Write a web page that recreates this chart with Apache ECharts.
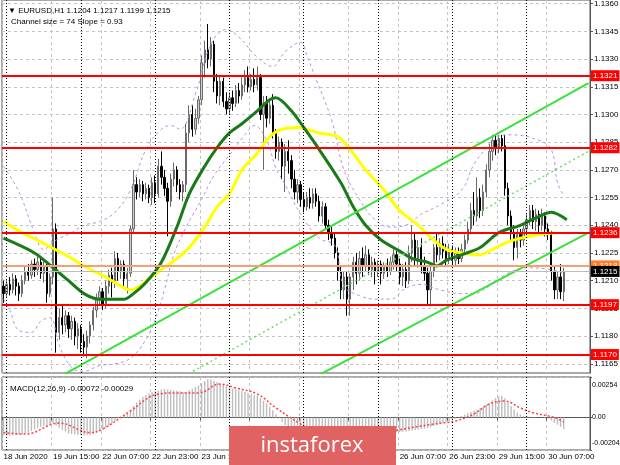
<!DOCTYPE html>
<html><head><meta charset="utf-8">
<script src="https://cdn.jsdelivr.net/npm/echarts@6/dist/echarts.min.js"></script>
<style>html,body{margin:0;padding:0;background:#fff}#c{width:620px;height:465px}</style>
</head><body><div id="c"></div>
<script>
// ---------- DATA ----------
const firstBar = '18 Jun 23:00';
const tradingDays = ['19 Jun','22 Jun','23 Jun','24 Jun','25 Jun','26 Jun','29 Jun','30 Jun'];
const slotCount = 190;
const tickLabels = ['18 Jun 2020','19 Jun 15:00','22 Jun 07:00','22 Jun 23:00','23 Jun 15:00','24 Jun 07:00','24 Jun 23:00','25 Jun 15:00','26 Jun 07:00','26 Jun 23:00','29 Jun 15:00','30 Jun 07:00'];
const tickStep = 16;
const daySeparators = [1,25,49,73,97,121,145,169];
const priceTicks = [1.1165,1.1180,1.1195,1.1210,1.1225,1.1240,1.1255,1.1270,1.1285,1.1300,1.1315,1.1330,1.1345,1.1360];
const macdTicks = [-0.00204,0,0.00254];
const redLevels = [1.1321,1.1282,1.1236,1.1197,1.1170];
const orangeLevel = 1.1218;
const lastPrice = 1.1215;
const headerText = '\u25BC EURUSD,H1 1.1204 1.1217 1.1199 1.1215';
const channelText = 'Channel size = 74 Slope = 0.93';
const macdText = 'MACD(12,26,9) -0.00072 -0.00029';

// candles: [open, close, low, high]
const candles = [
[1.1207,1.1203,1.1198,1.1210],[1.1203,1.1208,1.1201,1.1211],[1.1208,1.1205,1.1202,1.1212],[1.1205,1.1211,1.1203,1.1214],
[1.1211,1.1207,1.1202,1.1213],[1.1207,1.1203,1.1199,1.1209],[1.1203,1.1210,1.1201,1.1213],[1.1210,1.1215,1.1208,1.1218],
[1.1215,1.1213,1.1210,1.1219],[1.1213,1.1219,1.1211,1.1221],[1.1219,1.1216,1.1212,1.1222],[1.1216,1.1220,1.1213,1.1223],
[1.1220,1.1214,1.1211,1.1222],[1.1214,1.1218,1.1209,1.1221],[1.1218,1.1203,1.1198,1.1219],[1.1203,1.1212,1.1201,1.1214],
[1.1212,1.1238,1.1208,1.1255],[1.1238,1.1182,1.1171,1.1241],[1.1182,1.1190,1.1178,1.1195],[1.1190,1.1186,1.1181,1.1197],
[1.1186,1.1191,1.1182,1.1194],[1.1191,1.1184,1.1179,1.1193],[1.1184,1.1188,1.1178,1.1191],[1.1188,1.1180,1.1175,1.1190],
[1.1180,1.1184,1.1173,1.1187],[1.1184,1.1177,1.1171,1.1186],[1.1177,1.1174,1.1169,1.1181],[1.1174,1.1180,1.1168,1.1183],
[1.1180,1.1186,1.1176,1.1188],[1.1186,1.1194,1.1183,1.1196],[1.1194,1.1200,1.1190,1.1203],[1.1200,1.1204,1.1197,1.1207],
[1.1204,1.1197,1.1194,1.1206],[1.1197,1.1207,1.1195,1.1210],[1.1207,1.1213,1.1203,1.1216],[1.1213,1.1209,1.1201,1.1217],
[1.1209,1.1222,1.1206,1.1226],[1.1222,1.1215,1.1210,1.1225],[1.1215,1.1219,1.1211,1.1221],[1.1219,1.1211,1.1206,1.1221],
[1.1211,1.1214,1.1203,1.1217],[1.1214,1.1238,1.1212,1.1240],[1.1238,1.1262,1.1236,1.1270],[1.1262,1.1258,1.1254,1.1266],
[1.1258,1.1262,1.1255,1.1265],[1.1262,1.1257,1.1253,1.1264],[1.1257,1.1260,1.1254,1.1263],[1.1260,1.1255,1.1252,1.1262],
[1.1255,1.1263,1.1251,1.1266],[1.1263,1.1257,1.1252,1.1267],[1.1257,1.1272,1.1255,1.1276],[1.1272,1.1266,1.1262,1.1280],
[1.1266,1.1260,1.1256,1.1270],[1.1260,1.1253,1.1234,1.1263],[1.1253,1.1265,1.1250,1.1268],[1.1265,1.1270,1.1261,1.1274],
[1.1270,1.1262,1.1258,1.1272],[1.1262,1.1258,1.1254,1.1265],[1.1258,1.1262,1.1253,1.1264],[1.1262,1.1290,1.1258,1.1295],
[1.1290,1.1300,1.1285,1.1305],[1.1300,1.1292,1.1288,1.1305],[1.1292,1.1298,1.1289,1.1303],[1.1298,1.1308,1.1295,1.1310],
[1.1308,1.1328,1.1305,1.1332],[1.1328,1.1335,1.1320,1.1340],[1.1335,1.1330,1.1325,1.1349],[1.1330,1.1338,1.1326,1.1342],
[1.1338,1.1318,1.1312,1.1340],[1.1318,1.1310,1.1306,1.1322],[1.1310,1.1318,1.1305,1.1321],[1.1318,1.1307,1.1304,1.1320],
[1.1307,1.1303,1.1300,1.1312],[1.1303,1.1309,1.1300,1.1312],[1.1309,1.1306,1.1302,1.1313],[1.1306,1.1313,1.1304,1.1316],
[1.1313,1.1310,1.1306,1.1317],[1.1310,1.1316,1.1308,1.1320],[1.1316,1.1320,1.1312,1.1324],[1.1320,1.1315,1.1312,1.1326],
[1.1315,1.1319,1.1313,1.1322],[1.1319,1.1316,1.1312,1.1325],[1.1316,1.1320,1.1313,1.1326],[1.1320,1.1300,1.1297,1.1322],
[1.1300,1.1306,1.1270,1.1310],[1.1306,1.1298,1.1293,1.1310],[1.1298,1.1305,1.1295,1.1308],[1.1305,1.1290,1.1287,1.1311],
[1.1290,1.1280,1.1276,1.1292],[1.1280,1.1285,1.1275,1.1288],[1.1285,1.1272,1.1265,1.1287],[1.1272,1.1280,1.1258,1.1284],
[1.1280,1.1275,1.1268,1.1286],[1.1275,1.1265,1.1260,1.1278],[1.1265,1.1258,1.1254,1.1270],[1.1258,1.1262,1.1252,1.1265],
[1.1262,1.1254,1.1250,1.1264],[1.1254,1.1250,1.1247,1.1258],[1.1250,1.1255,1.1248,1.1258],[1.1255,1.1252,1.1249,1.1260],
[1.1252,1.1257,1.1249,1.1260],[1.1257,1.1253,1.1250,1.1260],[1.1253,1.1245,1.1242,1.1256],[1.1245,1.1250,1.1241,1.1253],
[1.1250,1.1240,1.1238,1.1252],[1.1240,1.1236,1.1232,1.1243],[1.1236,1.1233,1.1229,1.1240],[1.1233,1.1225,1.1222,1.1236],
[1.1225,1.1215,1.1210,1.1228],[1.1215,1.1205,1.1200,1.1218],[1.1205,1.1212,1.1200,1.1215],[1.1212,1.1200,1.1191,1.1215],
[1.1200,1.1212,1.1191,1.1214],[1.1212,1.1220,1.1205,1.1223],[1.1220,1.1214,1.1208,1.1225],[1.1214,1.1222,1.1210,1.1226],
[1.1222,1.1218,1.1212,1.1228],[1.1218,1.1224,1.1215,1.1229],[1.1224,1.1216,1.1213,1.1227],[1.1216,1.1220,1.1212,1.1223],
[1.1220,1.1215,1.1208,1.1222],[1.1215,1.1219,1.1212,1.1221],[1.1219,1.1214,1.1208,1.1221],[1.1214,1.1218,1.1211,1.1220],
[1.1218,1.1215,1.1212,1.1222],[1.1215,1.1220,1.1213,1.1223],[1.1220,1.1224,1.1216,1.1227],[1.1224,1.1219,1.1215,1.1226],
[1.1219,1.1212,1.1208,1.1222],[1.1212,1.1216,1.1207,1.1219],[1.1216,1.1210,1.1206,1.1220],[1.1210,1.1225,1.1208,1.1229],
[1.1225,1.1232,1.1220,1.1240],[1.1232,1.1222,1.1218,1.1236],[1.1222,1.1228,1.1217,1.1232],[1.1228,1.1218,1.1214,1.1233],
[1.1218,1.1214,1.1210,1.1223],[1.1214,1.1205,1.1197,1.1217],[1.1205,1.1215,1.1196,1.1218],[1.1215,1.1228,1.1212,1.1230],
[1.1228,1.1224,1.1220,1.1236],[1.1224,1.1230,1.1221,1.1233],[1.1230,1.1226,1.1222,1.1234],[1.1226,1.1222,1.1218,1.1230],
[1.1222,1.1227,1.1219,1.1230],[1.1227,1.1221,1.1217,1.1229],[1.1221,1.1225,1.1218,1.1228],[1.1225,1.1222,1.1219,1.1228],
[1.1222,1.1227,1.1220,1.1230],[1.1227,1.1232,1.1224,1.1235],[1.1232,1.1238,1.1230,1.1242],[1.1238,1.1248,1.1235,1.1252],
[1.1248,1.1245,1.1240,1.1258],[1.1245,1.1255,1.1242,1.1266],[1.1255,1.1248,1.1244,1.1260],[1.1248,1.1258,1.1245,1.1262],
[1.1258,1.1270,1.1255,1.1273],[1.1270,1.1280,1.1266,1.1284],[1.1280,1.1286,1.1275,1.1289],[1.1286,1.1282,1.1278,1.1289],
[1.1282,1.1287,1.1279,1.1289],[1.1287,1.1283,1.1280,1.1289],[1.1283,1.1260,1.1256,1.1289],[1.1260,1.1245,1.1240,1.1263],
[1.1245,1.1236,1.1232,1.1248],[1.1236,1.1228,1.1221,1.1240],[1.1228,1.1235,1.1222,1.1238],[1.1235,1.1232,1.1228,1.1238],
[1.1232,1.1238,1.1229,1.1241],[1.1238,1.1243,1.1235,1.1246],[1.1243,1.1248,1.1240,1.1251],[1.1248,1.1242,1.1238,1.1251],
[1.1242,1.1246,1.1237,1.1249],[1.1246,1.1240,1.1236,1.1248],[1.1240,1.1245,1.1237,1.1249],[1.1245,1.1238,1.1234,1.1247],
[1.1238,1.1235,1.1232,1.1241],[1.1235,1.1215,1.1210,1.1237],[1.1215,1.1205,1.1200,1.1218],[1.1205,1.1212,1.1200,1.1215],
[1.1212,1.1204,1.1200,1.1219],[1.1204,1.1215,1.1199,1.1217]
];

// moving averages / bands read at sparse bars: [barIndex, price]
const greenMA = [[0,1.1233],[10,1.1225],[16,1.1217],[21,1.1210],[26,1.1203],[31,1.1200],[39,1.1200],[42,1.1203],[46,1.1209],[51,1.1220],[56,1.1239],[60,1.1257],[65,1.1272],[69,1.1282],[73,1.1290],[77,1.1295],[82,1.1302],[86,1.1308],[88,1.1309],[93,1.1302],[97,1.1293],[102,1.1281],[109,1.1263],[113,1.1250],[117,1.1240],[122,1.1232],[128,1.1226],[132,1.1222],[137,1.1220],[140,1.1218],[143,1.1221],[148,1.1224],[154,1.1228],[160,1.1236],[167,1.1240],[172,1.1244],[177,1.1247],[182,1.1243]];
const yellowMA = [[0,1.1242],[5,1.1237],[12,1.1231],[21,1.1223],[27,1.1217],[33,1.1212],[38,1.1207],[41,1.1205],[44,1.1207],[47,1.1211],[51,1.1216],[56,1.1222],[60,1.1228],[65,1.1239],[69,1.1250],[73,1.1257],[77,1.1270],[82,1.1279],[86,1.1288],[90,1.1292],[95,1.1293],[102,1.1290],[108,1.1288],[112,1.1281],[117,1.1270],[123,1.1259],[128,1.1248],[134,1.1240],[139,1.1232],[143,1.1227],[148,1.1225],[154,1.1224],[158,1.1227],[163,1.1231],[167,1.1233],[173,1.1235],[178,1.1236]];
const bandUpper = [[0,1.1272],[5,1.1258],[10,1.1236],[13,1.1227],[17,1.1232],[22,1.1236],[26,1.1240],[31,1.1242],[36,1.1247],[41,1.1259],[46,1.1281],[51,1.1292],[54,1.1294],[57,1.1292],[62,1.1311],[67,1.1338],[72,1.1346],[76,1.1342],[82,1.1331],[87,1.1326],[91,1.1334],[96,1.1339],[98,1.1332],[101,1.1319],[106,1.1297],[110,1.1270],[115,1.1254],[120,1.1243],[125,1.1239],[130,1.1240],[135,1.1246],[141,1.1251],[148,1.1259],[152,1.1273],[156,1.1282],[159,1.1288],[164,1.1289],[173,1.1286],[177,1.1281],[179,1.1263],[181,1.1256]];
const bandLower = [[0,1.1200],[2,1.1194],[5,1.1183],[9,1.1182],[12,1.1188],[15,1.1190],[18,1.1175],[22,1.1163],[26,1.1161],[31,1.1164],[36,1.1165],[41,1.1168],[46,1.1178],[49,1.1189],[52,1.1205],[55,1.1224],[59,1.1239],[64,1.1254],[68,1.1267],[73,1.1278],[78,1.1289],[81,1.1294],[85,1.1286],[88,1.1271],[91,1.1262],[96,1.1246],[102,1.1233],[107,1.1229],[110,1.1207],[115,1.1202],[120,1.1200],[125,1.1200],[130,1.1206],[135,1.1208],[141,1.1205],[148,1.1203],[152,1.1203],[157,1.1207],[163,1.1214],[169,1.1217],[177,1.1216],[181,1.1214]];
const channelUpper = [[15,1.1155],[189,1.1317]];
const channelMiddle = [[57,1.1157],[189,1.1280]];
const channelLower = [[102,1.1159],[189,1.1236]];

const macdHist = [
-0.00110,-0.00112,-0.00113,-0.00112,-0.00110,-0.00108,-0.00105,-0.00100,-0.00096,
-0.00085,-0.00075,-0.00065,-0.00058,-0.00052,-0.00048,-0.00042,-0.00036,
-0.00050,-0.00065,-0.00078,-0.00088,
-0.00100,-0.00104,-0.00107,-0.00110,-0.00112,-0.00113,-0.00112,-0.00108,-0.00102,-0.00095,
-0.00086,-0.00076,-0.00064,-0.00050,-0.00036,-0.00020,-0.00006,0.00006,
0.00018,0.00030,0.00048,0.00072,0.00095,0.00112,0.00128,0.00140,
0.00150,0.00158,0.00164,0.00170,0.00175,0.00178,0.00176,0.00172,0.00170,0.00168,
0.00164,0.00160,0.00162,0.00170,0.00180,0.00190,0.00200,0.00215,0.00228,
0.00240,0.00238,0.00230,0.00222,0.00212,0.00204,0.00196,0.00188,0.00182,0.00176,0.00170,
0.00165,0.00160,0.00154,0.00148,0.00142,0.00135,0.00122,
0.00105,0.00088,0.00068,0.00045,0.00020,
-0.00005,-0.00028,-0.00048,-0.00064,-0.00078,-0.00090,-0.00100,
-0.00106,-0.00110,-0.00113,-0.00115,-0.00116,-0.00117,-0.00118,-0.00118,-0.00119,-0.00120,-0.00121,-0.00122,-0.00123,-0.00122,-0.00121,-0.00120,-0.00119,-0.00118,-0.00117,-0.00116,-0.00115,-0.00114,-0.00113,-0.00112,-0.00111,
-0.00110,-0.00108,-0.00106,-0.00103,-0.00100,-0.00097,-0.00094,-0.00092,-0.00090,-0.00088,-0.00085,-0.00082,-0.00079,-0.00076,-0.00073,
-0.00070,-0.00066,-0.00060,-0.00054,-0.00048,-0.00042,-0.00036,-0.00030,-0.00024,-0.00016,-0.00008,
0.00002,0.00010,0.00018,0.00026,0.00034,0.00042,0.00050,0.00058,0.00066,
0.00078,0.00092,0.00108,0.00122,0.00132,0.00136,
0.00120,0.00096,0.00072,0.00050,0.00032,
0.00020,0.00012,0.00008,0.00006,0.00004,0.00002,0.00000,-0.00002,-0.00004,-0.00008,
-0.00020,-0.00034,-0.00046,-0.00058,-0.00072
];
const macdSignal = [[0,-0.00095],[7,-0.00104],[18,-0.00035],[28,-0.00095],[32,-0.00073],[41,0.00041],[50,0.00147],[56,0.00154],[63,0.00154],[70,0.0021],[75,0.00185],[82,0.00147],[88,0.0006],[96,-0.00041],[101,-0.00095],[107,-0.00116],[120,-0.00116],[126,-0.00085],[139,-0.00041],[146,-0.00022],[152,0.00022],[157,0.00085],[162,0.00103],[167,0.0006],[171,0.0003],[178,0],[181,-0.00029]];

// ---------- BUILD ----------
const categories = [firstBar];
tradingDays.forEach(d => { for (let h = 0; h < 24; h++) categories.push(d + ' ' + String(h).padStart(2,'0') + ':00'); });
categories.length = slotCount;

const FONT = 'Liberation Sans';
const isTick = idx => idx % tickStep === 0 && idx / tickStep < tickLabels.length;
const sepStyle = { color: '#000', type: [1, 2], width: 1 };
const sepLines = () => daySeparators.map(i => ({ xAxis: categories[i], lineStyle: sepStyle, label: { show: false } }));

function levelLine(v, bg, lineColor, w, txt) {
  return { yAxis: v, lineStyle: { color: lineColor, width: w, type: 'solid' },
    label: { show: true, position: 'end', distance: 1, formatter: v.toFixed(4), backgroundColor: bg, color: txt || '#fff',
      fontSize: 8, fontFamily: FONT, padding: [2, 2, 1, 2] } };
}
function levelSeries(items, z) {
  return { type: 'line', xAxisIndex: 0, yAxisIndex: 0, data: [], z: z, silent: true,
    markLine: { symbol: 'none', silent: true, animation: false, precision: 4, data: items } };
}

const chart = echarts.init(document.getElementById('c'), null, { renderer: 'canvas' });
chart.setOption({
  animation: false,
  backgroundColor: '#fff',
  textStyle: { fontFamily: FONT },
  title: [
    { text: headerText, left: 3, top: 2, textStyle: { fontSize: 8, fontWeight: 'normal', color: '#000', fontFamily: FONT } },
    { text: channelText, left: 6, top: 13, textStyle: { fontSize: 8, fontWeight: 'normal', color: '#000', fontFamily: FONT } },
    { text: macdText, left: 5, top: 380, textStyle: { fontSize: 8, fontWeight: 'normal', color: '#000', fontFamily: FONT } }
  ],
  grid: [
    { left: 2, right: 30, top: 0, height: 373, show: true, borderColor: '#555', borderWidth: 1, backgroundColor: 'transparent', containLabel: false, outerBoundsMode: 'none' },
    { left: 2, right: 30, top: 377, height: 73, show: true, borderColor: '#555', borderWidth: 1, backgroundColor: 'transparent', containLabel: false, outerBoundsMode: 'none' }
  ],
  xAxis: [
    { type: 'category', gridIndex: 0, data: categories, boundaryGap: true,
      axisLine: { show: false }, axisTick: { show: false }, axisLabel: { show: false },
      splitLine: { show: true, interval: isTick, lineStyle: { color: '#c4c4c4', type: [3, 3], width: 1 } } },
    { type: 'category', gridIndex: 1, data: categories, boundaryGap: true,
      axisLine: { show: true, lineStyle: { color: '#555' } },
      axisTick: { show: true, interval: isTick, length: 3, lineStyle: { color: '#555' } },
      axisLabel: { show: true, interval: isTick, hideOverlap: false, formatter: (v, idx) => tickLabels[idx / tickStep] || '', fontSize: 8, color: '#000', align: 'left', margin: 3, fontFamily: FONT },
      splitLine: { show: true, interval: isTick, lineStyle: { color: '#c4c4c4', type: [3, 3], width: 1 } } }
  ],
  yAxis: [
    { type: 'value', gridIndex: 0, position: 'right', min: 1.1160, max: 1.1362, scale: true,
      axisLine: { show: true, lineStyle: { color: '#555' } },
      axisTick: { show: true, length: 3, customValues: priceTicks, lineStyle: { color: '#555' } },
      axisLabel: { customValues: priceTicks, formatter: v => v.toFixed(4), fontSize: 8, color: '#000', margin: 4, fontFamily: FONT },
      splitLine: { show: true, lineStyle: { color: '#c4c4c4', type: [3, 3], width: 1 } } },
    { type: 'value', gridIndex: 1, position: 'right', min: macdTicks[0], max: macdTicks[2],
      axisLine: { show: true, lineStyle: { color: '#555' } },
      axisTick: { show: true, length: 2, customValues: macdTicks, lineStyle: { color: '#555' } },
      axisLabel: { customValues: macdTicks, fontSize: 7, color: '#000', margin: 2, fontFamily: FONT,
        formatter: v => v === 0 ? '0.00' : (v > 0 ? '{t|' + v.toFixed(5) + '}' : '{b|' + v.toFixed(5) + '}'),
        rich: { t: { fontSize: 7, color: '#000', padding: [16, 0, 0, 0], fontFamily: FONT }, b: { fontSize: 7, color: '#000', padding: [0, 0, 14, 0], fontFamily: FONT } } },
      splitLine: { show: true, lineStyle: { color: '#c4c4c4', type: [3, 3], width: 1 } } }
  ],
  series: [
    { type: 'candlestick', xAxisIndex: 0, yAxisIndex: 0, data: candles, barWidth: 1.8, z: 2,
      itemStyle: { color: '#cfcfcf', color0: '#000', borderColor: '#6a6a6a', borderColor0: '#000', borderWidth: 1 } },
    { type: 'line', xAxisIndex: 0, yAxisIndex: 0, data: [], z: 3, silent: true,
      markLine: { symbol: 'none', silent: true, animation: false, data: sepLines() } },
    { type: 'line', xAxisIndex: 0, yAxisIndex: 0, data: bandUpper, smooth: 0.4, showSymbol: false, z: 3,
      lineStyle: { color: '#bb90e0', width: 1, type: [3, 3] } },
    { type: 'line', xAxisIndex: 0, yAxisIndex: 0, data: bandLower, smooth: 0.4, showSymbol: false, z: 3,
      lineStyle: { color: '#bb90e0', width: 1, type: [3, 3] } },
    { type: 'line', xAxisIndex: 0, yAxisIndex: 0, data: yellowMA, smooth: 0.3, showSymbol: false, z: 4,
      lineStyle: { color: '#ffff00', width: 3 } },
    { type: 'line', xAxisIndex: 0, yAxisIndex: 0, data: greenMA, smooth: 0.3, showSymbol: false, z: 4,
      lineStyle: { color: '#1a7a1a', width: 3 } },
    { type: 'line', xAxisIndex: 0, yAxisIndex: 0, data: channelUpper, showSymbol: false, z: 4, clip: true,
      lineStyle: { color: '#3ce03c', width: 2 } },
    { type: 'line', xAxisIndex: 0, yAxisIndex: 0, data: channelLower, showSymbol: false, z: 4, clip: true,
      lineStyle: { color: '#3ce03c', width: 2 } },
    { type: 'line', xAxisIndex: 0, yAxisIndex: 0, data: channelMiddle, showSymbol: false, z: 4, clip: true,
      lineStyle: { color: '#66e066', width: 1.5, type: [2, 3] } },
    levelSeries([levelLine(orangeLevel, '#ff7f2a', '#f4a070', 2)], 5),
    levelSeries(redLevels.map(v => levelLine(v, '#ff0000', '#ff0000', 2)), 6),
    levelSeries([levelLine(lastPrice, '#000', '#bdbdbd', 1)], 7),
    { type: 'bar', xAxisIndex: 1, yAxisIndex: 1, data: macdHist, barWidth: 1.4, z: 2,
      itemStyle: { color: '#bdbdbd' } },
    { type: 'line', xAxisIndex: 1, yAxisIndex: 1, data: [], z: 3, silent: true,
      markLine: { symbol: 'none', silent: true, animation: false, data: sepLines() } },
    { type: 'line', xAxisIndex: 1, yAxisIndex: 1, data: macdSignal, smooth: 0.4, showSymbol: false, z: 4,
      lineStyle: { color: '#ff4040', width: 1.5, type: [2, 2] } }
  ],
  graphic: [
    { type: 'rect', z: 100, shape: { x: 229, y: 426, width: 167, height: 39 }, style: { fill: '#e06262' } },
    { type: 'text', z: 101, x: 312, y: 446, style: { text: 'instaforex', fill: '#fff', font: '22px "Open Sans"', textAlign: 'center', textVerticalAlign: 'middle' } }
  ]
});
</script></body></html>
